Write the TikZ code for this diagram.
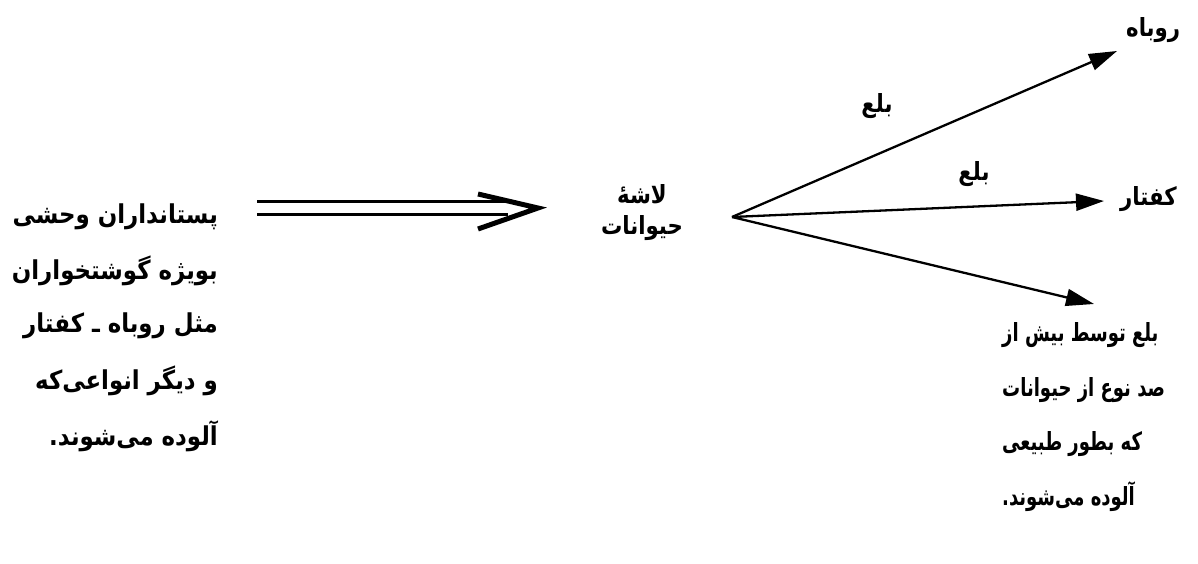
\documentclass[tikz,border=0pt]{standalone}
\usepackage{fontspec}
\newfontfamily\arabicleft[Script=Arabic,FakeStretch=0.88]{DejaVu Sans}
\newfontfamily\arabicmid[Script=Arabic,FakeStretch=0.85]{DejaVu Sans}
\newfontfamily\arabicnarrow[Script=Arabic,FakeStretch=0.72]{DejaVu Sans}
\TeXXeTstate=1
\usetikzlibrary{arrows.meta}
\begin{document}
\begin{tikzpicture}[x=1pt,y=-1pt,
  txt/.style={inner sep=0pt, font=\arabicleft\bfseries\fontsize{26}{30}\selectfont},
  rtxt/.style={inner sep=0pt, font=\arabicnarrow\bfseries\fontsize{25}{29}\selectfont},
  mtxt/.style={inner sep=0pt, font=\arabicmid\bfseries\fontsize{25}{29}\selectfont},
  lbl/.style={inner sep=0pt, font=\arabicmid\bfseries\fontsize{25}{29}\selectfont},
  arr/.style={line width=2.3pt, -{Triangle[length=28pt,width=17pt]}},
  dbl/.style={double, double distance=10pt, line width=3pt},
  head/.style={line width=5pt, miter limit=10}]
\useasboundingbox (0,0) rectangle (1198,564);
\fill[white] (0,0) rectangle (1198,564);

% left block
\node[txt, anchor=east] (l1) at (218,217) {\beginR پستانداران وحشی\endR};
\node[txt, anchor=east] (l2) at (218,271) {\beginR بویژه گوشتخواران\endR};
\node[txt, anchor=east] (l3) at (218,326) {\beginR مثل روباه ـ کفتار\endR};
\node[txt, anchor=east] (l4) at (218,381) {\beginR و دیگر انواعی‌که\endR};
\node[txt, anchor=east] (l5) at (218,436) {\beginR آلوده می‌شوند.\endR};

% middle node
\node[mtxt, anchor=center] (m1) at (642,194) {\beginR لاشهٔ\endR};
\node[mtxt, anchor=center] (m2) at (642,228) {\beginR حیوانات\endR};

% right targets
\node[mtxt, anchor=west] (fox) at (1126,30) {\beginR روباه\endR};
\node[mtxt, anchor=west] (hyena) at (1120,199) {\beginR کفتار\endR};
\node[rtxt, anchor=west] (r1) at (1002,335) {\beginR بلع توسط بیش از\endR};
\node[rtxt, anchor=west] (r2) at (1002,390) {\beginR صد نوع از حیوانات\endR};
\node[rtxt, anchor=west] (r3) at (1002,444) {\beginR که بطور طبیعی\endR};
\node[rtxt, anchor=west] (r4) at (1002,497) {\beginR آلوده می‌شوند.\endR};

% double arrow
\coordinate (dA) at ([xshift=39pt,yshift=9pt]l1.east);
\coordinate (dB) at (538,208);
\draw[dbl] (dA) -- ([xshift=-30pt]dB);
\draw[head] ([shift={(-60,-14)}]dB) -- (dB) -- ([shift={(-60,21)}]dB);

% fan arrows
\coordinate (fan) at (732,217);
\coordinate (tF) at (1117,51);
\coordinate (tH) at (1104,201);
\coordinate (tO) at (1094,304);
\draw[arr] (fan) -- (tF);
\draw[arr] (fan) -- (tH);
\draw[arr] (fan) -- (tO);

% labels
\node[lbl] (b1) at (877,106) {\beginR بلع\endR};
\node[lbl] (b2) at (974,174) {\beginR بلع\endR};
\end{tikzpicture}
\end{document}
